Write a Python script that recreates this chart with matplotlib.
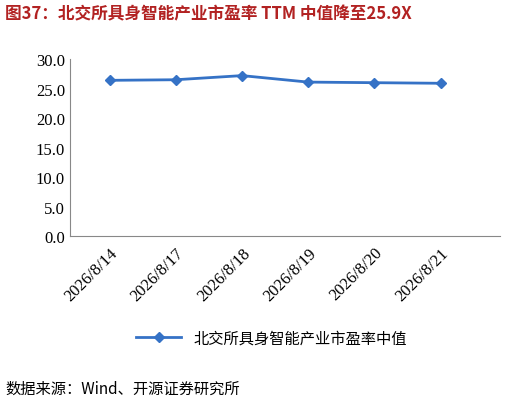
import matplotlib
matplotlib.use("Agg")
import matplotlib.pyplot as plt

dates = ["2026/8/14", "2026/8/17", "2026/8/18", "2026/8/19", "2026/8/20", "2026/8/21"]
values = [26.4, 26.5, 27.2, 26.1, 26.0, 25.9]
yticks = [0, 5, 10, 15, 20, 25, 30]

cjk = ['Noto Sans CJK SC', 'DejaVu Sans']
num = ['Liberation Serif', 'Noto Sans CJK SC']
fig = plt.figure(figsize=(5.22, 4.06), dpi=100)
ax = fig.add_axes([0.134, 0.416, 0.824, 0.436])
x = range(len(dates))
ax.plot(x, values, color='#3572C6', lw=2, marker='D', ms=5, label='北交所具身智能产业市盈率中值')
ax.set_ylim(0, 30)
ax.set_xlim(-0.6, 5.9)
ax.set_yticks(yticks)
ax.set_yticklabels([f"{v:.1f}" for v in yticks], family=num, fontsize=12)
ax.set_xticks(list(x))
ax.set_xticklabels(dates, rotation=45, ha='right', rotation_mode='anchor', family=num, fontsize=12)
for s in ['top', 'right']:
    ax.spines[s].set_visible(False)
ax.spines['left'].set_color('#888888')
ax.spines['bottom'].set_color('#888888')
ax.tick_params(axis='x', length=0, pad=6)
ax.tick_params(axis='y', length=0)
leg = fig.legend(loc='center', bbox_to_anchor=(0.52, 0.165), frameon=False,
                 prop={'family': cjk, 'size': 11}, handlelength=3)
fig.text(0.01, 0.965, '图37：北交所具身智能产业市盈率 TTM 中值降至25.9X', family=cjk,
         fontsize=12, fontweight='bold', color='#B22222', va='center')
fig.text(0.01, 0.04, '数据来源：Wind、开源证券研究所', family=cjk, fontsize=11, va='center')
fig.savefig('out.png', dpi=100)
